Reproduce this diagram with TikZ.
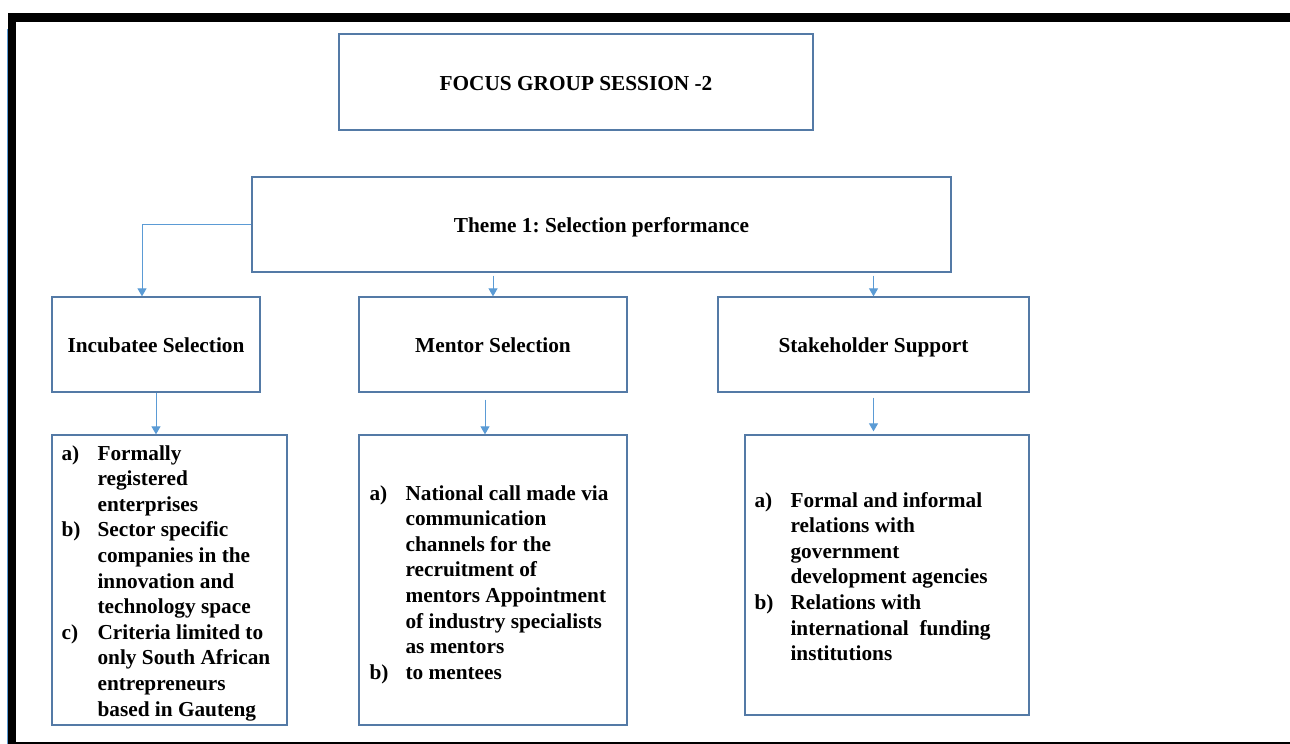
\documentclass[tikz,border=0pt]{standalone}
\usepackage{fontspec}
\setmainfont{Liberation Serif}
\usetikzlibrary{arrows.meta,calc}
\definecolor{boxblue}{RGB}{84,122,166}
\definecolor{linkblue}{RGB}{91,155,213}
\tikzset{
  panel/.style={draw=boxblue, line width=1.3pt, inner sep=0pt, align=center,
    text height=18pt, text depth=2pt,
    font=\fontsize{21.3}{25}\selectfont\bfseries},
  framebox/.style={draw=boxblue, line width=1.3pt, inner sep=0pt},
  listtext/.style={anchor=base west, inner sep=0pt,
    font=\fontsize{21.3}{25.6}\selectfont\bfseries},
  conn/.style={draw=linkblue, line width=1pt,
    -{Triangle[width=9pt,length=8pt]}},
}
\newcommand{\itemrow}[2]{\makebox[36pt][l]{#1} & #2}
\frenchspacing
\begin{document}
\begin{tikzpicture}[x=1pt,y=-1pt]
\useasboundingbox (0,0) rectangle (1290,744);
% page frame
\fill[black] (8,13) rectangle (1290,22);
\fill[black] (8,13) rectangle (16,744);
\fill[black] (8,741.5) rectangle (1290,744);
\draw[linkblue, line width=0.8pt] (7.8,29) -- (7.8,744);

% heading boxes
\node[panel, minimum width=474pt, minimum height=96pt] (focus) at (576,82) {FOCUS GROUP SESSION -2};
\node[panel, minimum width=699pt, minimum height=95pt] (theme) at (601.5,224.5) {Theme 1: Selection performance};
\node[panel, minimum width=208pt, minimum height=95pt] (inc) at (156,344.5) {Incubatee Selection};
\node[panel, minimum width=268pt, minimum height=95pt] (ment) at (493,344.5) {Mentor Selection};
\node[panel, minimum width=311pt, minimum height=95pt] (stake) at (873.5,344.5) {Stakeholder Support};

% detail boxes
\node[framebox, minimum width=235pt, minimum height=290pt] (lbox) at (169.5,580) {};
\node[framebox, minimum width=268pt, minimum height=290pt] (mbox) at (493,580) {};
\node[framebox, minimum width=284pt, minimum height=280pt] (rbox) at (887,575) {};

\node[listtext] (ltext) at ($(lbox.north west)+(10,25.7)$) {%
\begin{tabular}[t]{@{}l@{}l@{}}
\itemrow{a)}{Formally}\\
 & registered\\
 & enterprises\\
\itemrow{b)}{Sector specific}\\
 & companies in the\\
 & innovation and\\
 & technology space\\
\itemrow{c)}{Criteria limited to}\\
 & only South African\\
 & entrepreneurs\\
 & based in Gauteng
\end{tabular}};

\node[listtext] (mtext) at ($(mbox.north west)+(11,65.7)$) {%
\begin{tabular}[t]{@{}l@{}l@{}}
\itemrow{a)}{National call made via}\\
 & communication\\
 & channels for the\\
 & recruitment of\\
 & mentors Appointment\\
 & of industry specialists\\
 & as mentors\\
\itemrow{b)}{to mentees}
\end{tabular}};

\node[listtext] (rtext) at ($(rbox.north west)+(10,72.7)$) {%
\begin{tabular}[t]{@{}l@{}l@{}}
\itemrow{a)}{Formal and informal}\\
 & relations with\\
 & government\\
 & development agencies\\
\itemrow{b)}{Relations with}\\
 & international\ \ funding\\
 & institutions
\end{tabular}};

% connectors
\draw[conn] (theme.west) -| ([xshift=-14pt]inc.north);
\draw[conn] ([yshift=-3pt]theme.south -| ment.north) -- (ment.north);
\draw[conn] ([yshift=-3pt]theme.south -| stake.north) -- (stake.north);
\draw[conn] (inc.south) -- (inc.south |- lbox.north);
\draw[conn] ([xshift=-8pt,yshift=-7pt]ment.south) -- ([xshift=-8pt]ment.south |- mbox.north);
\draw[conn] ([yshift=-5pt]stake.south) -- ([yshift=3pt]stake.south |- rbox.north);
\end{tikzpicture}
\end{document}
